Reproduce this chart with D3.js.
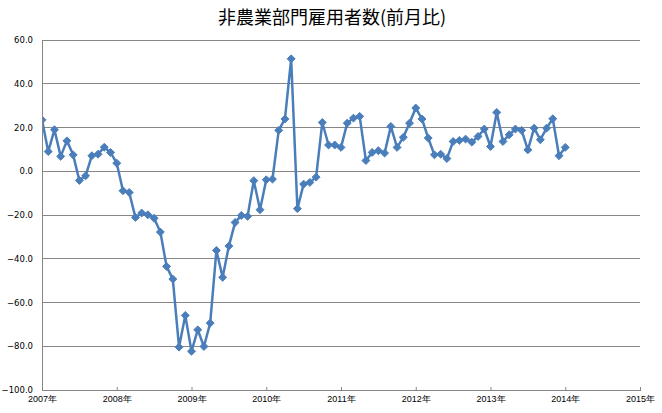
<!DOCTYPE html>
<html>
<head>
<meta charset="utf-8">
<script src="https://cdn.jsdelivr.net/npm/d3@7"></script>
<style>
  body { margin: 0; background: #fff; }
  svg { display: block; font-family: "Noto Sans CJK JP", "DejaVu Sans", sans-serif; }
</style>
</head>
<body>
<div id="chart"></div>
<script>
// 月次データ 2007年1月 〜 2014年1月
const startYear = 2007;
const values = [
  // 2007
  23.5, 9.0, 19.0, 6.8, 13.9, 7.5, -4.2, -2.1, 7.1, 7.8, 11.0, 8.6,
  // 2008
  3.7, -8.9, -9.7, -21.1, -19.1, -19.9, -21.5, -27.8, -43.5, -49.3, -80.4, -65.9,
  // 2009
  -82.3, -72.5, -80.1, -69.4, -36.2, -48.5, -34.2, -23.4, -20.2, -20.6, -4.3, -17.6,
  // 2010
  -3.9, -3.6, 18.7, 23.9, 51.4, -17.1, -5.9, -5.1, -2.7, 22.3, 12.0, 12.0,
  // 2011
  10.9, 22.0, 24.3, 25.1, 4.9, 8.6, 9.4, 8.3, 20.5, 10.9, 15.5, 22.0,
  // 2012
  28.9, 23.9, 15.2, 7.5, 7.8, 5.8, 13.6, 14.1, 14.7, 13.3, 15.9, 19.3,
  // 2013
  11.3, 26.9, 13.6, 16.7, 19.3, 18.7, 9.8, 19.7, 14.4, 19.7, 24.0, 7.1,
  // 2014
  10.9
];
const yearLabels = ["2007年", "2008年", "2009年", "2010年", "2011年", "2012年", "2013年", "2014年", "2015年"];
const yTicks = [60, 40, 20, 0, -20, -40, -60, -80, -100];
const title = "非農業部門雇用者数(前月比)";

const width = 662, height = 413;
const margin = { top: 40, right: 22, bottom: 23, left: 42 };

const svg = d3.select("#chart").append("svg")
  .attr("width", width)
  .attr("height", height);

// 時間軸（月単位）
const x = d3.scaleLinear()
  .domain([0, (yearLabels.length - 1) * 12])
  .range([margin.left, width - margin.right]);

const y = d3.scaleLinear()
  .domain([-100, 60])
  .range([height - margin.bottom, margin.top]);

// プロット領域でクリップ（左端のマーカーが隠れる）
svg.append("clipPath")
  .attr("id", "plot-clip")
  .append("rect")
  .attr("x", margin.left + 1)
  .attr("y", 0)
  .attr("width", width - margin.left - margin.right)
  .attr("height", height - margin.bottom);

// 横グリッド
svg.append("g")
  .selectAll("line")
  .data(yTicks)
  .join("line")
  .attr("x1", margin.left)
  .attr("x2", width - margin.right)
  .attr("y1", d => y(d))
  .attr("y2", d => y(d))
  .attr("stroke", "#868686")
  .attr("stroke-width", 1)
  .attr("shape-rendering", "crispEdges");

// Y軸
const yAxis = svg.append("g")
  .attr("transform", `translate(${margin.left},0)`)
  .call(d3.axisLeft(y).tickValues(yTicks).tickSize(0).tickPadding(9).tickFormat(d3.format(".1f")));
yAxis.select(".domain").attr("stroke", "#868686").attr("shape-rendering", "crispEdges");
yAxis.selectAll("text")
  .attr("font-family", "'DejaVu Sans', sans-serif")
  .attr("font-size", "8.5px")
  .attr("fill", "#000");

// X軸
const xAxis = svg.append("g")
  .attr("transform", `translate(0,${height - margin.bottom})`)
  .call(d3.axisBottom(x)
    .tickValues(yearLabels.map((d, i) => i * 12))
    .tickSize(-3)
    .tickPadding(6)
    .tickFormat((d, i) => yearLabels[i]));
xAxis.select(".domain").attr("stroke", "#868686").attr("shape-rendering", "crispEdges");
xAxis.selectAll(".tick line").attr("stroke", "#868686");
xAxis.selectAll("text")
  .attr("font-size", "9px")
  .attr("fill", "#000");

// 折れ線
const line = d3.line()
  .x((d, i) => x(i))
  .y(d => y(d));

const series = svg.append("g").attr("clip-path", "url(#plot-clip)");

series.append("path")
  .datum(values)
  .attr("fill", "none")
  .attr("stroke", "#4a7ebb")
  .attr("stroke-width", 2.5)
  .attr("stroke-linejoin", "round")
  .attr("d", line);

// マーカー（ひし形）
series.append("g")
  .selectAll("path")
  .data(values)
  .join("path")
  .attr("transform", (d, i) => `translate(${x(i)},${y(d)})`)
  .attr("d", d3.symbol(d3.symbolDiamond2, 40))
  .attr("fill", "#4a7ebb")
  .attr("stroke", "#4a7ebb")
  .attr("stroke-width", 1);

// タイトル
svg.append("text")
  .attr("x", 332)
  .attr("y", 24)
  .attr("text-anchor", "middle")
  .attr("font-size", "18px")
  .attr("fill", "#000")
  .text(title);
</script>
</body>
</html>
